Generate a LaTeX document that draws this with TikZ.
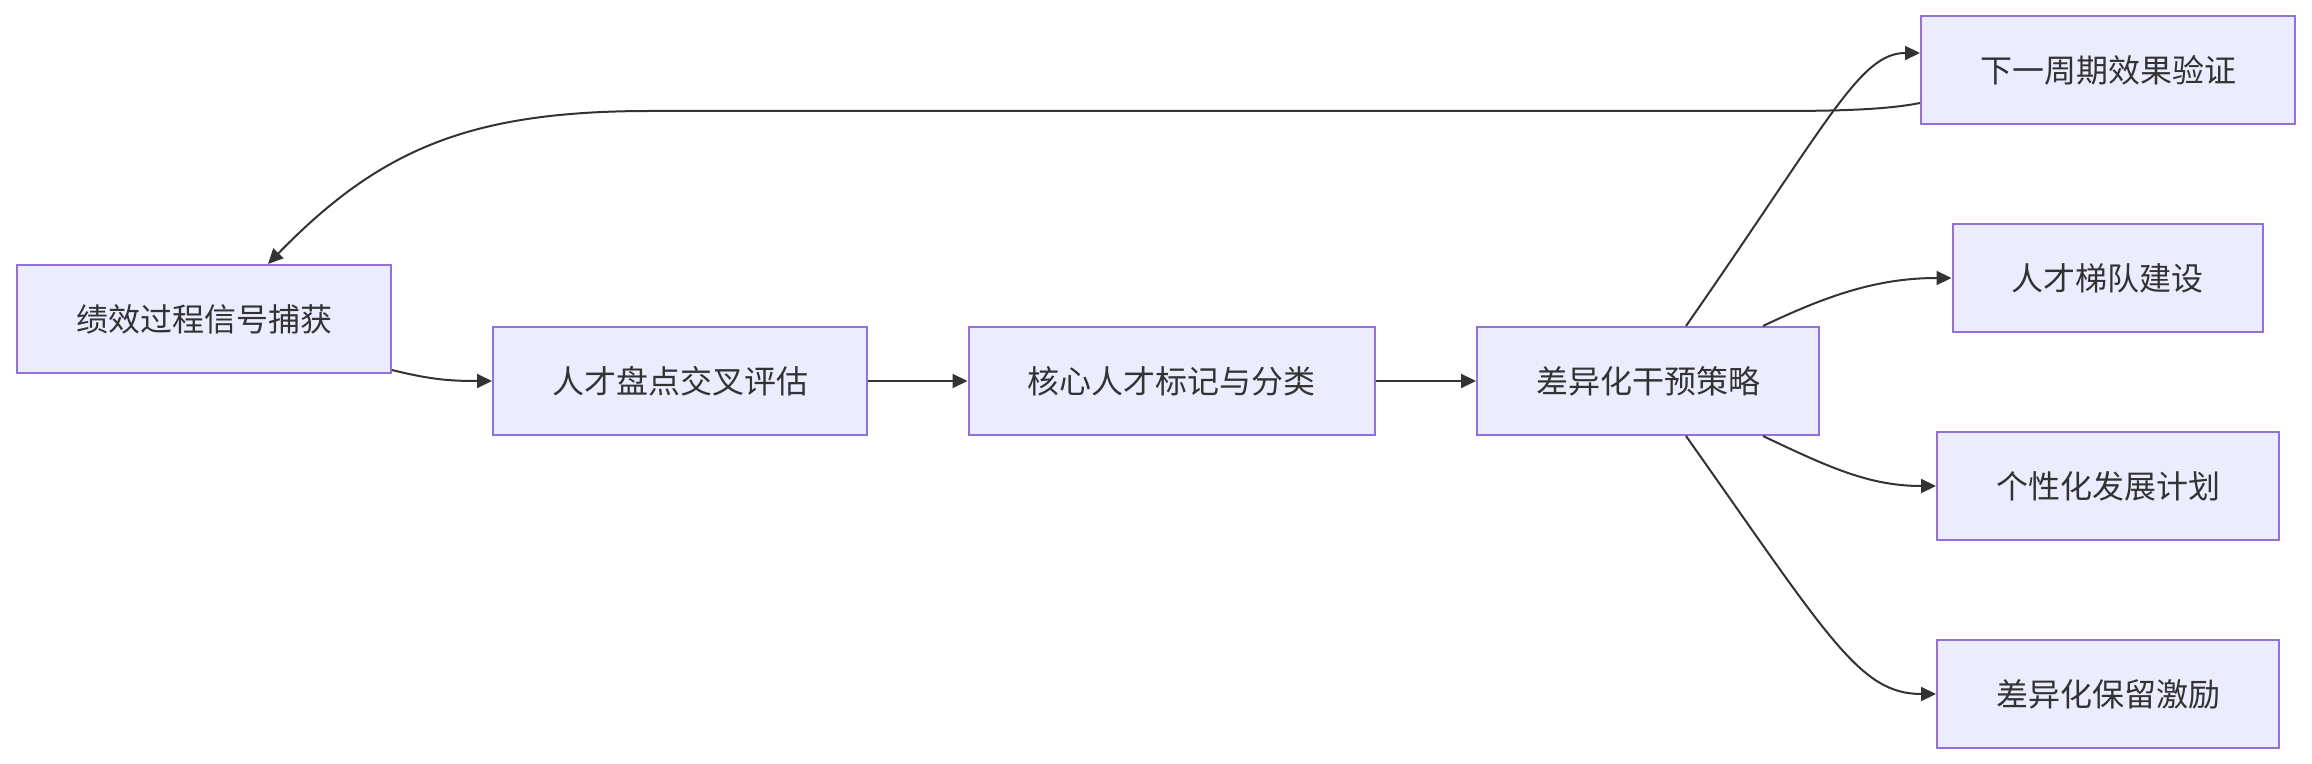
\documentclass[tikz,border=0pt]{standalone}
\usepackage{fontspec}
\newfontfamily\cjk{Noto Sans CJK SC}
\usepackage{tikz}
\usetikzlibrary{arrows.meta, calc}
\definecolor{boxfill}{HTML}{ECECFF}
\definecolor{boxline}{HTML}{9370DB}
\definecolor{ink}{HTML}{333333}

\begin{document}
\begin{tikzpicture}[x=0.5pt, y=-0.5pt, >={Triangle[length=7.5pt,width=7pt]},
  every node/.style={font=\cjk\fontsize{16}{16}\selectfont, text=ink},
  stage/.style={draw=boxline, fill=boxfill, line width=1pt, inner xsep=29.5pt,
    inner ysep=0pt, minimum height=54pt},
  flow/.style={->, draw=ink, line width=1pt}]
  \useasboundingbox (0,0) rectangle (2312,764);

  % Main chain
  \node[stage] (capture) at (204,319) {绩效过程信号捕获};
  \node[stage] (review) at (680,381) {人才盘点交叉评估};
  \node[stage] (tagging) at (1171.5,381) {核心人才标记与分类};
  \node[stage] (strategy) at (1648,381) {差异化干预策略};

  % Branches
  \node[stage] (verify) at (2108,70) {下一周期效果验证};
  \node[stage] (pipeline) at (2107.5,278) {人才梯队建设};
  \node[stage] (devplan) at (2108,486) {个性化发展计划};
  \node[stage] (retain) at (2108,694) {差异化保留激励};

  \draw[flow] ($(capture.south east)+(0,-4)$) .. controls +(40,10) and +(-40,0) .. (review.west);
  \draw[flow] (review) -- (tagging);
  \draw[flow] (tagging) -- (strategy);

  \draw[flow] ($(strategy.north)+(38,0)$) .. controls +(144,-207) and +(-60,0) .. ($(verify.west)+(0,-17)$);
  \draw[flow] ($(strategy.north)+(115,0)$) .. controls +(67,-32) and +(-72,0) .. (pipeline.west);
  \draw[flow] ($(strategy.south)+(115,0)$) .. controls +(67,32) and +(-66,0) .. (devplan.west);
  \draw[flow] ($(strategy.south)+(38,0)$) .. controls +(144,204) and +(-76,0) .. (retain.west);

  % Feedback loop
  \coordinate (loopR) at (1760,111);
  \coordinate (loopL) at (650,111);
  \draw[flow] ($(verify.west)+(0,33)$) .. controls +(-40,8) and +(60,0) .. (loopR) -- (loopL)
    .. controls +(-180,0) and +(112,-115) .. ($(capture.north)+(64,0)$);
\end{tikzpicture}
\end{document}
